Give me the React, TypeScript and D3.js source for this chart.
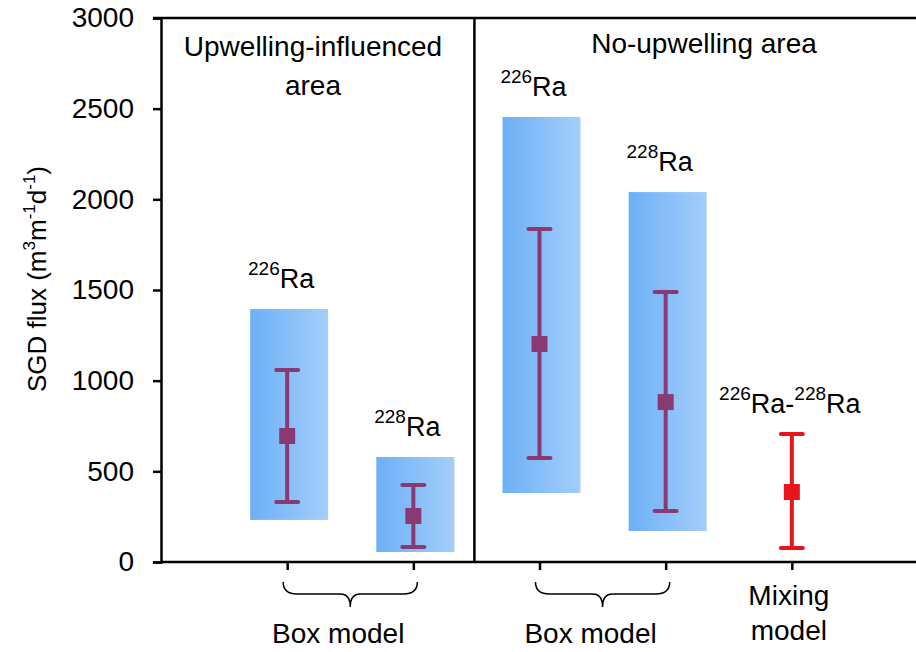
import React, { useEffect, useRef } from 'react';
import * as d3 from 'd3';

// positions 1..5 along the x axis
const groups = ['226Ra', '228Ra', '226Ra', '228Ra', 'mix'];
const boxLow = [232, 55, 380, 171, null];
const boxHigh = [1395, 579, 2454, 2040, null];
const means = [695, 254, 1202, 882, 386];
const errLow = [331, 83, 574, 281, 77];
const errHigh = [1059, 425, 1836, 1489, 706];
const yTicks = [0, 500, 1000, 1500, 2000, 2500, 3000];

const FONT = 'Liberation Sans, Arial, sans-serif';

const App = () => {
  const svgRef = useRef<SVGSVGElement>(null);

  useEffect(() => {
    const svg = d3.select(svgRef.current);
    svg.selectAll('*').remove(); // Clear previous contents

    const x = d3.scaleLinear().domain([0, 6]).range([161, 918]);
    const y = d3.scaleLinear().domain([0, 3000]).range([562, 18]);

    const defs = svg.append('defs');
    const grad = defs.append('linearGradient').attr('id', 'boxGrad')
      .attr('x1', '0%').attr('x2', '100%').attr('y1', '0%').attr('y2', '0%');
    grad.append('stop').attr('offset', '0%').attr('stop-color', '#6cb0f6');
    grad.append('stop').attr('offset', '100%').attr('stop-color', '#a4cefb');

    const g = svg.append('g');
    const boxW = 78;

    // shaded ranges
    groups.forEach((_, i) => {
      if (boxLow[i] == null) return;
      g.append('rect')
        .attr('x', x(i + 1) - boxW / 2 + 2)
        .attr('y', y(boxHigh[i] as number))
        .attr('width', boxW)
        .attr('height', y(boxLow[i] as number) - y(boxHigh[i] as number))
        .attr('fill', 'url(#boxGrad)');
    });

    // error bars
    groups.forEach((grp, i) => {
      const col = grp === 'mix' ? '#e8141c' : '#8a3a73';
      const cx = x(i + 1);
      g.append('line').attr('x1', cx).attr('x2', cx)
        .attr('y1', y(errLow[i])).attr('y2', y(errHigh[i]))
        .attr('stroke', col).attr('stroke-width', 4);
      [errLow[i], errHigh[i]].forEach(v => {
        g.append('line').attr('x1', cx - 11).attr('x2', cx + 11)
          .attr('y1', y(v)).attr('y2', y(v))
          .attr('stroke', col).attr('stroke-width', 4).attr('stroke-linecap', 'round');
      });
      g.append('rect').attr('x', cx - 8).attr('y', y(means[i]) - 8)
        .attr('width', 16).attr('height', 16).attr('fill', col);
    });

    // frame
    const frame = svg.append('g').attr('stroke', '#000').attr('stroke-width', 2.5);
    frame.append('line').attr('x1', 153).attr('x2', 918).attr('y1', y(3000)).attr('y2', y(3000));
    frame.append('line').attr('x1', x(0)).attr('x2', 918).attr('y1', y(0)).attr('y2', y(0));
    frame.append('line').attr('x1', x(2.5) - 2).attr('x2', x(2.5) - 2).attr('y1', y(3000)).attr('y2', y(0));

    // y axis
    const yAxis = svg.append('g')
      .attr('transform', `translate(${x(0)},0)`)
      .call(d3.axisLeft(y).tickValues(yTicks).tickSize(8).tickPadding(19).tickFormat(d3.format('d')));
    yAxis.select('.domain').attr('stroke-width', 2.5);
    yAxis.selectAll('.tick line').attr('stroke-width', 2.5);
    yAxis.selectAll('text').attr('font-family', FONT).attr('font-size', 28).attr('fill', '#000');

    // x ticks (no labels)
    const xAxis = svg.append('g')
      .attr('transform', `translate(0,${y(0)})`)
      .call(d3.axisBottom(x).tickValues([1, 2, 3, 4, 5]).tickSize(8).tickFormat(() => ''));
    xAxis.select('.domain').remove();
    xAxis.selectAll('.tick line').attr('stroke-width', 2.5);

    // isotope labels
    const iso = (cx: number, by: number, parts: [string, string][]) => {
      const t = svg.append('text').attr('x', cx).attr('y', by)
        .attr('text-anchor', 'middle').attr('font-family', FONT).attr('font-size', 27);
      parts.forEach(([sup, base]) => {
        t.append('tspan').attr('font-size', 19).attr('dy', -13).text(sup);
        t.append('tspan').attr('dy', 13).text(base);
      });
    };
    groups.forEach((grp, i) => {
      const top = grp === 'mix' ? y(errHigh[i]) : y(boxHigh[i] as number);
      if (grp === 'mix') iso(x(i + 1) - 2, top - 21, [['226', 'Ra-'], ['228', 'Ra']]);
      else iso(x(i + 1) - 6, top - 21, [[grp.slice(0, 3), 'Ra']]);
    });

    // area titles
    const title = (cx: number, by: number, s: string) =>
      svg.append('text').attr('x', cx).attr('y', by).attr('text-anchor', 'middle')
        .attr('font-family', FONT).attr('font-size', 28).text(s);
    title(313, 56, 'Upwelling-influenced');
    title(313, 95, 'area');
    title(704, 53, 'No-upwelling area');

    // braces + model labels
    const brace = (a: number, b: number) => {
      const m = (a + b) / 2, y0 = 582, y1 = 594, y2 = 607;
      const p = `M${a},${y0} Q${a},${y1} ${a + 14},${y1} L${m - 10},${y1} Q${m},${y1} ${m},${y2}`
        + ` Q${m},${y1} ${m + 10},${y1} L${b - 14},${y1} Q${b},${y1} ${b},${y0}`;
      svg.append('path').attr('d', p).attr('fill', 'none').attr('stroke', '#000').attr('stroke-width', 1.5);
      title(m - 12, 643, 'Box model');
    };
    brace(x(1) - 4, x(2) + 4);
    brace(x(3) - 4, x(4) + 4);
    title(x(5) - 3, 605, 'Mixing');
    title(x(5) - 3, 640, 'model');

    // y label
    const yl = svg.append('text').attr('transform', 'translate(46,279) rotate(-90)')
      .attr('text-anchor', 'middle').attr('font-family', FONT).attr('font-size', 26);
    yl.append('tspan').text('SGD flux (m');
    yl.append('tspan').attr('font-size', 17).attr('dy', -11).text('3');
    yl.append('tspan').attr('dy', 11).text('m');
    yl.append('tspan').attr('font-size', 17).attr('dy', -11).text('-1');
    yl.append('tspan').attr('dy', 11).text('d');
    yl.append('tspan').attr('font-size', 17).attr('dy', -11).text('-1');
    yl.append('tspan').attr('dy', 11).text(')');
  }, []);

  return (
    <svg ref={svgRef} width={916} height={652}
      style={{ position: 'absolute', left: 0, top: 0, background: '#fff' }} />
  );
};

export default App;
